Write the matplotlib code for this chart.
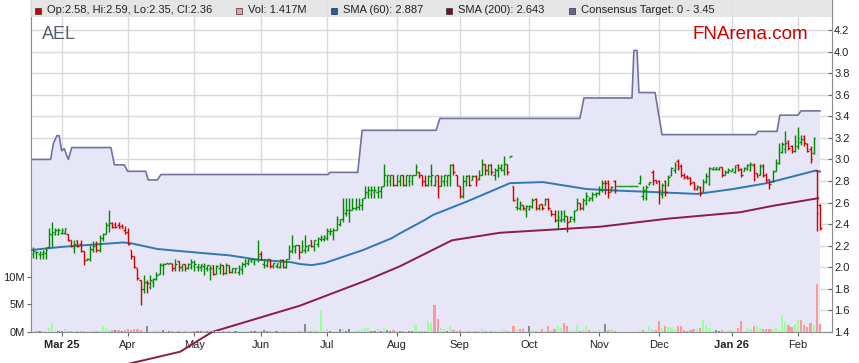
import matplotlib
matplotlib.use('Agg')
import matplotlib.pyplot as plt
from matplotlib.patches import Rectangle

plt.rcParams['font.family'] = ['Liberation Sans', 'DejaVu Sans']

W, H = 859, 363

# daily OHLC bars, Feb 2025 - Feb 2026 (index = trading day)
opens = [
    2.12, 2.13, 2.12, 2.12, 2.13, 2.19, 2.30, 2.31, 2.31, 2.32,
    2.32, 2.31, 2.25, 2.18, 2.25, 2.22, 2.15, 2.07, 2.08, 2.16,
    2.22, 2.16, 2.27, 2.31, 2.39, 2.41, 2.40, 2.39, 2.38, 2.35,
    2.33, 2.16, 2.10, 1.99, 1.88, 1.80, 1.86, 1.82, 1.86, 1.89,
    1.94, 2.02, 2.03, 2.03, 2.03, 1.99, 2.06, 2.00, 2.03, 1.99,
    2.00, 2.01, 2.00, 2.00, 2.01, 1.99, 1.98, 2.02, 1.94, 1.99,
    2.02, 1.95, 2.02, 1.96, 1.96, 1.96, 1.98, 2.03, 2.04, 2.06,
    2.05, 2.08, 2.12, 2.03, 2.02, 2.08, 2.01, 2.01, 2.00, 2.07,
    2.00, 2.08, 2.15, 2.16, 2.21, 2.14, 2.16, 2.16, 2.25, 2.20,
    2.22, 2.26, 2.26, 2.27, 2.32, 2.31, 2.35, 2.40, 2.45, 2.50,
    2.50, 2.53, 2.55, 2.56, 2.58, 2.64, 2.68, 2.68, 2.70, 2.70,
    2.71, 2.75, 2.80, 2.80, 2.86, 2.76, 2.80, 2.86, 2.76, 2.80,
    2.80, 2.86, 2.88, 2.86, 2.80, 2.76, 2.80, 2.76, 2.86, 2.75,
    2.80, 2.80, 2.86, 2.96, 2.86, 2.75, 2.66, 2.80, 2.86, 2.81,
    2.85, 2.82, 2.86, 2.96, 2.90, 2.96, 2.86, 2.90, 2.92, 2.90,
    2.96, 3.02, 2.75, 2.56, 2.55, 2.58, 2.53, 2.54, 2.56, 2.63,
    2.55, 2.59, 2.58, 2.63, 2.53, 2.49, 2.44, 2.44, 2.45, 2.48,
    2.43, 2.45, 2.53, 2.60, 2.55, 2.60, 2.62, 2.64, 2.68, 2.69,
    2.72, 2.79, 2.80, 2.72, 2.80, 2.75, 2.75, 2.75, 2.75, 2.75,
    2.75, 2.75, 2.78, 2.66, 2.64, 2.77, 2.88, 2.81, 2.80, 2.68,
    2.80, 2.76, 2.86, 2.90, 2.99, 2.94, 2.86, 2.85, 2.84, 2.79,
    2.73, 2.74, 2.71, 2.80, 2.77, 2.91, 2.91, 2.91, 2.93, 2.86,
    2.88, 2.89, 2.88, 2.95, 2.91, 2.89, 2.91, 2.90, 2.95, 2.87,
    2.86, 2.95, 2.86, 2.82, 2.80, 2.89, 2.97, 3.07, 3.10, 3.17,
    3.12, 3.08, 3.12, 3.16, 3.22, 3.14, 3.10, 3.06, 2.90, 2.58,
]
highs = [
    2.19, 2.15, 2.15, 2.16, 2.19, 2.36, 2.42, 2.36, 2.36, 2.36,
    2.36, 2.31, 2.25, 2.25, 2.25, 2.25, 2.15, 2.09, 2.21, 2.24,
    2.24, 2.30, 2.32, 2.42, 2.53, 2.42, 2.42, 2.42, 2.40, 2.38,
    2.36, 2.16, 2.10, 1.99, 1.88, 1.93, 1.88, 1.93, 1.90, 1.96,
    2.04, 2.04, 2.04, 2.04, 2.04, 2.08, 2.06, 2.03, 2.03, 2.04,
    2.08, 2.07, 2.03, 2.03, 2.04, 2.02, 2.02, 2.02, 2.02, 2.04,
    2.02, 2.04, 2.02, 1.99, 1.99, 2.02, 2.05, 2.08, 2.08, 2.08,
    2.08, 2.25, 2.15, 2.08, 2.08, 2.08, 2.04, 2.04, 2.08, 2.08,
    2.08, 2.21, 2.30, 2.21, 2.21, 2.25, 2.30, 2.21, 2.25, 2.25,
    2.28, 2.30, 2.30, 2.36, 2.36, 2.36, 2.48, 2.45, 2.64, 2.64,
    2.64, 2.64, 2.64, 2.64, 2.64, 2.75, 2.75, 2.75, 2.75, 2.75,
    2.75, 2.96, 2.86, 2.86, 2.86, 2.86, 2.86, 2.86, 2.86, 2.86,
    2.86, 2.96, 2.88, 2.86, 2.86, 2.86, 2.96, 2.86, 2.86, 2.86,
    2.86, 2.86, 2.96, 2.96, 2.86, 2.75, 2.86, 2.86, 2.86, 2.86,
    2.86, 2.90, 3.00, 2.96, 2.96, 2.96, 2.92, 2.96, 2.96, 3.03,
    2.96, 3.03, 2.75, 2.65, 2.61, 2.58, 2.58, 2.58, 2.64, 2.64,
    2.59, 2.59, 2.64, 2.64, 2.53, 2.53, 2.53, 2.53, 2.53, 2.48,
    2.48, 2.53, 2.64, 2.60, 2.64, 2.70, 2.65, 2.70, 2.70, 2.75,
    2.81, 2.81, 2.81, 2.75, 2.81, 2.75, 2.75, 2.75, 2.75, 2.75,
    2.75, 2.75, 2.86, 2.75, 2.76, 2.79, 2.90, 2.81, 2.81, 2.78,
    2.81, 2.86, 2.93, 2.98, 3.00, 2.96, 2.87, 2.86, 2.84, 2.79,
    2.76, 2.75, 2.82, 2.87, 2.93, 2.93, 2.93, 2.93, 2.93, 2.90,
    2.92, 2.92, 2.95, 2.96, 2.92, 2.93, 2.96, 2.98, 2.97, 2.87,
    2.96, 2.96, 2.87, 2.82, 2.90, 3.00, 3.15, 3.16, 3.26, 3.18,
    3.13, 3.23, 3.30, 3.23, 3.23, 3.15, 3.12, 3.21, 2.90, 2.59,
]
lows = [
    2.09, 2.08, 2.08, 2.08, 2.08, 2.19, 2.19, 2.30, 2.30, 2.31,
    2.31, 2.24, 2.19, 2.13, 2.19, 2.14, 2.02, 2.07, 2.06, 2.14,
    2.14, 2.14, 2.24, 2.31, 2.33, 2.36, 2.36, 2.36, 2.36, 2.31,
    2.21, 2.08, 1.99, 1.88, 1.65, 1.76, 1.76, 1.80, 1.82, 1.88,
    1.94, 1.93, 2.03, 2.03, 1.97, 1.97, 1.97, 1.97, 1.97, 1.98,
    1.98, 1.97, 1.97, 1.97, 1.93, 1.97, 1.88, 1.93, 1.94, 1.94,
    1.93, 1.94, 1.95, 1.95, 1.95, 1.93, 1.94, 2.00, 2.02, 2.05,
    2.02, 2.05, 2.07, 1.99, 2.00, 1.99, 1.99, 1.99, 1.99, 1.99,
    1.99, 2.08, 2.13, 2.13, 2.08, 2.14, 2.13, 2.15, 2.19, 2.15,
    2.19, 2.24, 2.24, 2.25, 2.30, 2.25, 2.35, 2.38, 2.42, 2.48,
    2.42, 2.53, 2.53, 2.53, 2.53, 2.64, 2.64, 2.64, 2.64, 2.64,
    2.64, 2.75, 2.75, 2.75, 2.75, 2.75, 2.75, 2.75, 2.75, 2.75,
    2.76, 2.86, 2.83, 2.75, 2.75, 2.75, 2.75, 2.75, 2.64, 2.75,
    2.75, 2.75, 2.75, 2.86, 2.75, 2.64, 2.64, 2.75, 2.75, 2.81,
    2.75, 2.81, 2.86, 2.86, 2.86, 2.86, 2.81, 2.84, 2.89, 2.86,
    2.86, 3.02, 2.61, 2.53, 2.53, 2.53, 2.47, 2.53, 2.55, 2.53,
    2.53, 2.53, 2.58, 2.53, 2.48, 2.42, 2.36, 2.42, 2.42, 2.33,
    2.42, 2.42, 2.53, 2.53, 2.53, 2.58, 2.61, 2.61, 2.65, 2.67,
    2.70, 2.68, 2.64, 2.70, 2.69, 2.75, 2.75, 2.75, 2.75, 2.75,
    2.75, 2.75, 2.77, 2.62, 2.62, 2.76, 2.76, 2.78, 2.59, 2.64,
    2.66, 2.75, 2.85, 2.87, 2.90, 2.84, 2.82, 2.82, 2.76, 2.72,
    2.72, 2.66, 2.70, 2.78, 2.76, 2.90, 2.90, 2.90, 2.84, 2.86,
    2.87, 2.89, 2.87, 2.89, 2.84, 2.89, 2.90, 2.89, 2.80, 2.84,
    2.86, 2.84, 2.79, 2.73, 2.79, 2.89, 2.96, 3.06, 3.06, 3.09,
    3.06, 3.07, 3.10, 3.13, 3.12, 3.07, 2.97, 3.05, 2.34, 2.35,
]
closes = [
    2.15, 2.14, 2.14, 2.15, 2.16, 2.31, 2.33, 2.35, 2.35, 2.35,
    2.36, 2.25, 2.20, 2.22, 2.20, 2.15, 2.07, 2.08, 2.17, 2.20,
    2.16, 2.27, 2.31, 2.39, 2.41, 2.37, 2.37, 2.36, 2.36, 2.32,
    2.22, 2.10, 2.00, 1.90, 1.80, 1.85, 1.85, 1.88, 1.89, 1.93,
    2.03, 2.03, 2.04, 2.04, 1.99, 2.03, 2.00, 2.03, 1.99, 2.03,
    2.05, 2.03, 2.03, 2.03, 2.02, 2.02, 1.99, 1.94, 2.01, 2.02,
    1.95, 2.02, 1.96, 1.99, 1.99, 2.00, 2.03, 2.07, 2.08, 2.08,
    2.08, 2.10, 2.08, 2.08, 2.08, 2.01, 2.04, 2.04, 2.07, 2.00,
    2.08, 2.15, 2.20, 2.21, 2.14, 2.20, 2.20, 2.21, 2.20, 2.25,
    2.27, 2.28, 2.29, 2.34, 2.34, 2.35, 2.45, 2.45, 2.53, 2.53,
    2.53, 2.55, 2.56, 2.58, 2.62, 2.70, 2.72, 2.72, 2.72, 2.74,
    2.74, 2.86, 2.86, 2.86, 2.76, 2.86, 2.86, 2.76, 2.86, 2.86,
    2.86, 2.93, 2.86, 2.80, 2.76, 2.85, 2.86, 2.80, 2.75, 2.85,
    2.86, 2.86, 2.95, 2.88, 2.76, 2.66, 2.80, 2.85, 2.76, 2.85,
    2.80, 2.86, 2.95, 2.90, 2.95, 2.88, 2.90, 2.93, 2.95, 2.96,
    2.88, 3.03, 2.62, 2.63, 2.60, 2.55, 2.57, 2.57, 2.62, 2.55,
    2.58, 2.55, 2.63, 2.55, 2.49, 2.44, 2.47, 2.50, 2.48, 2.42,
    2.47, 2.52, 2.60, 2.55, 2.62, 2.66, 2.64, 2.68, 2.69, 2.73,
    2.78, 2.78, 2.70, 2.74, 2.72, 2.75, 2.75, 2.75, 2.75, 2.75,
    2.75, 2.75, 2.83, 2.72, 2.74, 2.79, 2.80, 2.78, 2.72, 2.76,
    2.70, 2.84, 2.92, 2.95, 2.92, 2.86, 2.84, 2.83, 2.78, 2.74,
    2.75, 2.69, 2.79, 2.85, 2.92, 2.93, 2.93, 2.93, 2.86, 2.88,
    2.90, 2.91, 2.93, 2.90, 2.86, 2.92, 2.95, 2.96, 2.82, 2.84,
    2.94, 2.86, 2.81, 2.77, 2.88, 2.97, 3.10, 3.14, 3.15, 3.11,
    3.08, 3.17, 3.20, 3.19, 3.15, 3.08, 3.00, 3.20, 2.50, 2.36,
]
# volume in millions
volume = [
    0.24, 0.1, 0.1, 0.15, 0.2, 0.8, 1.6, 0.2, 0.1, 0.15,
    0.5, 0.25, 0.25, 0.25, 0.1, 0.25, 0.25, 0.25, 0.1, 0.15,
    0.2, 0.15, 1.0, 0.8, 0.3, 0.3, 0.3, 0.35, 0.2, 0.35,
    0.5, 0.35, 0.6, 0.5, 0.3, 0.2, 1.1, 0.2, 0.15, 0.4,
    0.2, 0.35, 0.1, 0.1, 0.1, 0.15, 0.1, 0.15, 0.1, 0.1,
    0.15, 0.1, 0.15, 0.1, 0.1, 0.1, 0.15, 0.1, 0.1, 0.1,
    0.1, 0.15, 0.2, 0.1, 0.2, 0.15, 0.2, 0.1, 0.2, 0.1,
    0.2, 0.15, 0.2, 0.4, 0.1, 0.15, 0.1, 0.2, 0.1, 0.15,
    0.3, 0.1, 0.15, 0.2, 0.1, 0.1, 1.5, 0.35, 0.1, 0.35,
    0.2, 4.0, 0.2, 0.55, 0.1, 0.2, 0.2, 0.5, 0.6, 0.2,
    0.5, 0.2, 0.1, 0.3, 0.6, 0.8, 0.65, 0.2, 0.1, 0.6,
    0.2, 0.7, 0.3, 0.2, 0.4, 0.1, 0.2, 0.1, 0.2, 0.1,
    0.2, 1.2, 0.1, 0.2, 0.1, 1.9, 1.7, 4.8, 2.4, 0.7,
    0.6, 0.2, 1.0, 0.4, 0.1, 0.4, 0.1, 0.2, 0.1, 0.2,
    0.1, 0.2, 0.6, 0.1, 0.2, 0.1, 0.2, 0.1, 0.2, 0.6,
    0.1, 0.2, 1.0, 0.6, 0.6, 0.5, 0.2, 1.1, 0.4, 0.1,
    0.2, 0.6, 0.2, 1.0, 0.2, 0.6, 1.1, 0.7, 1.6, 1.0,
    0.4, 0.2, 1.3, 0.2, 0.4, 1.1, 0.4, 0.2, 0.1, 0.4,
    0.2, 1.5, 0.4, 0.6, 0.2, 0.0, 0.0, 0.0, 0.0, 0.0,
    0.0, 0.0, 0.4, 0.4, 0.2, 1.0, 0.6, 0.3, 1.9, 0.7,
    1.0, 0.85, 0.85, 0.5, 1.0, 1.0, 0.3, 0.2, 0.35, 0.6,
    0.6, 0.7, 2.1, 1.3, 0.7, 0.2, 0.3, 0.2, 0.3, 0.2,
    0.3, 0.3, 0.2, 0.65, 1.9, 0.2, 0.65, 0.6, 1.0, 1.0,
    0.7, 0.5, 0.55, 0.5, 0.6, 0.85, 0.3, 3.0, 1.75, 1.2,
    0.85, 1.5, 2.2, 2.2, 1.3, 0.85, 1.7, 1.2, 8.7, 1.417,
]

month_pos = [9, 30, 51, 72, 93, 115, 135, 157, 179, 198, 221, 242]
month_lbl = ['Mar 25', 'Apr', 'May', 'Jun', 'Jul', 'Aug', 'Sep', 'Oct',
             'Nov', 'Dec', 'Jan 26', 'Feb']
price_ticks = [1.4, 1.6, 1.8, 2.0, 2.2, 2.4, 2.6, 2.8, 3.0, 3.2, 3.4,
               3.6, 3.8, 4.0, 4.2]
vol_ticks = [0, 5, 10]
vol_lbl = ['0M', '5M', '10M']

# moving averages, read at points along the curve
sma60_x = [-0.7, 9.4, 28.4, 30.6, 39.2, 46.5, 62.3, 71.1, 81.9, 84.4, 88.2,
           92.3, 104.4, 113.5, 116.1, 124.0, 126.5, 137.3, 150.9, 161.3,
           175.2, 185.7, 198.4, 210.1, 221.4, 232.2, 247.4, 249]
sma60_y = [2.16, 2.19, 2.23, 2.225, 2.17, 2.15, 2.11, 2.07, 2.046, 2.03, 2.02,
           2.04, 2.16, 2.27, 2.315, 2.44, 2.485, 2.61, 2.78, 2.79,
           2.725, 2.71, 2.695, 2.68, 2.725, 2.78, 2.895, 2.887]
sma200_x = [25, 46.5, 56.6, 84.4, 105.6, 116.1, 132.5, 147.7, 179.4, 200.6,
            223.7, 234.1, 248.4]
sma200_y = [1.07, 1.217, 1.40, 1.644, 1.88, 2.01, 2.25, 2.32, 2.376, 2.45,
            2.51, 2.57, 2.64]

# consensus target (step line)
target_x = [-0.7, 5.5, 6.4, 7.5, 8.2, 9.0, 9.8, 11.1, 12.2, 24.6, 25.7, 28.8,
            29.9, 35.6, 36.4, 39.3, 40.4, 93.3, 93.9, 102.7, 104.1, 127.5,
            128.7, 173.0, 174.3, 189.5, 190.1, 191.1, 191.7, 196.8, 199.0,
            228.7, 229.4, 235.4, 236.3, 242.0, 243.0, 249.0]
target_y = [3.00, 3.00, 3.15, 3.22, 3.22, 3.08, 3.10, 3.00, 3.11, 3.11, 2.95,
            2.95, 2.89, 2.89, 2.81, 2.81, 2.86, 2.86, 2.88, 2.88, 3.27, 3.27,
            3.38, 3.38, 3.57, 3.57, 4.01, 4.01, 3.62, 3.62, 3.23,
            3.23, 3.26, 3.26, 3.41, 3.41, 3.45, 3.45]

green, red = '#008a00', '#d40000'
days = list(range(len(closes)))

fig = plt.figure(figsize=(W / 100, H / 100), dpi=100)
ax = fig.add_axes([31 / W, 31 / H, 801 / W, 332 / H])
axv = ax.twinx()
axv.set_zorder(ax.get_zorder() + 1)
axv.patch.set_visible(False)

ax.set_xlim(-0.7, 252.8)
ax.set_ylim(1.4, 1.4 + 332 / 107.86)
axv.set_ylim(0, 332 / 5.54)

# consensus target area + line
ax.fill_between(target_x, target_y, 0, color='#e6e6f6', lw=0, zorder=1)
ax.plot(target_x, target_y, color='#7272a2', lw=1.2, zorder=2)

# SMAs
ax.plot(sma60_x, sma60_y, color='#2f78b4', lw=1.4, zorder=3)
ax.plot(sma200_x, sma200_y, color='#8a1c48', lw=1.4, zorder=3, clip_on=False)

# OHLC bars
bar_col = [green if c >= o else red for o, c in zip(opens, closes)]
ax.vlines(days, lows, highs, colors=bar_col, lw=1.0, zorder=4)
ax.hlines(opens, [d - 0.5 for d in days], days, colors=bar_col, lw=1.0, zorder=4)
ax.hlines(closes, days, [d + 0.5 for d in days], colors=bar_col, lw=1.0, zorder=4)

# volume
vcol = []
for i, c in enumerate(closes):
    prev = closes[i - 1] if i else opens[0]
    if abs(c - prev) < 0.004:
        vcol.append('#8a8a8a')
    elif c > prev:
        vcol.append('#99ff99')
    else:
        vcol.append('#ff9999')
axv.bar(days, volume, width=0.7, color=vcol, lw=0)

# axes styling
ax.yaxis.tick_right()
ax.set_yticks(price_ticks, [f'{v:.1f}' for v in price_ticks])
ax.set_xticks(month_pos, month_lbl)
for lbl in ax.get_xticklabels():
    if lbl.get_text() in ('Mar 25', 'Jan 26'):
        lbl.set_fontweight('bold')
ax.tick_params(axis='y', direction='in', length=3, pad=1.5, labelsize=8,
               color='#666666', labelcolor='#222222')
ax.tick_params(axis='x', direction='out', length=3, pad=3, labelsize=8,
               color='#666666', labelcolor='#222222')
ax.grid(True, color='#d9d9d9', lw=1)
ax.set_axisbelow(True)
ax.spines['top'].set_visible(False)
for s in ('left', 'right', 'bottom'):
    ax.spines[s].set_color('#8c8c8c')

axv.yaxis.tick_left()
axv.set_yticks(vol_ticks, vol_lbl)
axv.tick_params(axis='y', direction='out', length=3, pad=1.5, labelsize=8,
                color='#666666', labelcolor='#222222')
for s in axv.spines.values():
    s.set_visible(False)

# legend strip
fig.add_artist(Rectangle((30 / W, 1 - 17 / H), 802 / W, 17 / H,
                         transform=fig.transFigure, fc='#e3e3e3', ec='none',
                         alpha=0.9, zorder=5))
legend_items = [
    (35, '#cc0000', 'Op:2.58, Hi:2.59, Lo:2.35, Cl:2.36'),
    (236, '#ff9999', 'Vol: 1.417M'),
    (331, '#1f5f9f', 'SMA (60): 2.887'),
    (446, '#7d0a2c', 'SMA (200): 2.643'),
    (569, '#65659a', 'Consensus Target: 0 - 3.45'),
]
for px, col, txt in legend_items:
    fig.add_artist(Rectangle((px / W, 1 - 13.5 / H), 6 / W, 6 / H,
                             transform=fig.transFigure, fc=col, ec='#333333',
                             lw=0.5, zorder=6))
    fig.text((px + 12) / W, 1 - 10.3 / H, txt, fontsize=8, color='#222222',
             va='center', ha='left', zorder=6)

fig.text(42 / W, 1 - 39 / H, 'AEL', fontsize=13, color='#56606c',
         va='baseline', ha='left')
fig.text(693 / W, 1 - 39 / H, 'FNArena.com', fontsize=13.5, color='#cc0000',
         va='baseline', ha='left')

fig.savefig('out.png', dpi=100, facecolor='white')
